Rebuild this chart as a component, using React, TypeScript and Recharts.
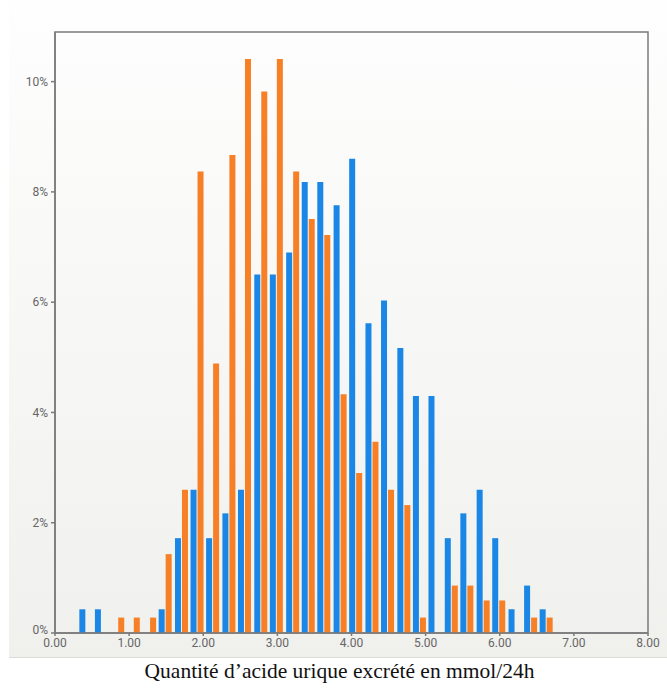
import React from 'react';
import { BarChart, Bar, XAxis, YAxis, ReferenceArea } from 'recharts';

// bin centres (mmol/24h)
const binCenters = [
  0.42, 0.63, 0.85, 1.06, 1.28, 1.49, 1.71, 1.92, 2.13, 2.35,
  2.56, 2.78, 2.99, 3.21, 3.42, 3.63, 3.85, 4.06, 4.28, 4.49,
  4.71, 4.92, 5.13, 5.35, 5.56, 5.78, 5.99, 6.21, 6.42, 6.63,
];

// % of subjects per bin
const blueValues = [
  0.43, 0.43, 0, 0, 0, 0.43, 1.72, 2.6, 1.72, 2.17,
  2.6, 6.5, 6.5, 6.9, 8.18, 8.18, 7.76, 8.6, 5.62, 6.03,
  5.17, 4.3, 4.3, 1.72, 2.17, 2.6, 1.72, 0.43, 0.86, 0.43,
];

const orangeValues = [
  0, 0, 0.28, 0.28, 0.28, 1.43, 2.6, 8.37, 4.89, 8.67,
  10.41, 9.82, 10.41, 8.37, 7.51, 7.22, 4.33, 2.9, 3.47, 2.6,
  2.32, 0.28, 0, 0.86, 0.86, 0.59, 0.59, 0, 0.28, 0.28,
];

const xTicks = [0, 1, 2, 3, 4, 5, 6, 7, 8];
const yTicks = [0, 2, 4, 6, 8, 10];

const BLUE = '#1a86e6';
const ORANGE = '#f77f25';
const AXIS = '#7a7a7a';

const data = binCenters.map((x, i) => ({
  x,
  blue: blueValues[i],
  orange: orangeValues[i],
}));

const tickStyle = { fontSize: 12, fill: '#666666', stroke: 'none', fontFamily: 'Roboto, sans-serif' };

// y tick label; the 0% one is lifted a little so it clears the x labels
const YTick = ({ x, y, payload }: any) => (
  <text
    x={x}
    y={payload.value === 0 ? y - 3 : y}
    dy="0.355em"
    textAnchor="end"
    {...tickStyle}
  >
    {`${payload.value}%`}
  </text>
);

export default function App() {
  return (
    <div style={{ position: 'relative', width: 667, height: 691, background: '#fff' }}>
      <style>{'body{margin:0}'}</style>
      <div
        style={{
          position: 'absolute',
          left: 9,
          top: 0,
          width: 658,
          height: 657,
          background: 'linear-gradient(#fefefe, #f0f0ed)',
          borderBottom: '1px solid #dcdcd8',
        }}
      />
      <div style={{ position: 'absolute', left: 0, top: 0 }}>
        <BarChart
          width={667}
          height={657}
          data={data}
          margin={{ top: 32, right: 19, bottom: 4, left: 10 }}
          barGap={1}
          barSize={6}
        >
          <XAxis
            dataKey="x"
            type="number"
            domain={[0, 8]}
            ticks={xTicks}
            tickFormatter={(v: number) => v.toFixed(2)}
            height={20}
            tickSize={3}
            tickMargin={2}
            stroke={AXIS}
            strokeWidth={1.5}
            tick={tickStyle}
            allowDataOverflow
          />
          <YAxis
            type="number"
            domain={[0, 10.9]}
            ticks={yTicks}
            width={45}
            tickSize={4}
            tickMargin={3}
            stroke={AXIS}
            strokeWidth={1.5}
            tick={<YTick />}
            allowDataOverflow
          />
          <ReferenceArea x1={0} x2={8} y1={0} y2={10.9} fill="none" stroke={AXIS} strokeWidth={1.5} />
          <Bar dataKey="blue" fill={BLUE} isAnimationActive={false} />
          <Bar dataKey="orange" fill={ORANGE} isAnimationActive={false} />
        </BarChart>
      </div>
      <div
        style={{
          position: 'absolute',
          left: 0,
          width: 667,
          top: 659,
          textAlign: 'center',
          fontFamily: '"Liberation Serif", "Times New Roman", serif',
          fontSize: 21.5,
          color: '#111',
          paddingLeft: 12,
          boxSizing: 'border-box',
        }}
      >
        Quantité d’acide urique excrété en mmol/24h
      </div>
    </div>
  );
}
